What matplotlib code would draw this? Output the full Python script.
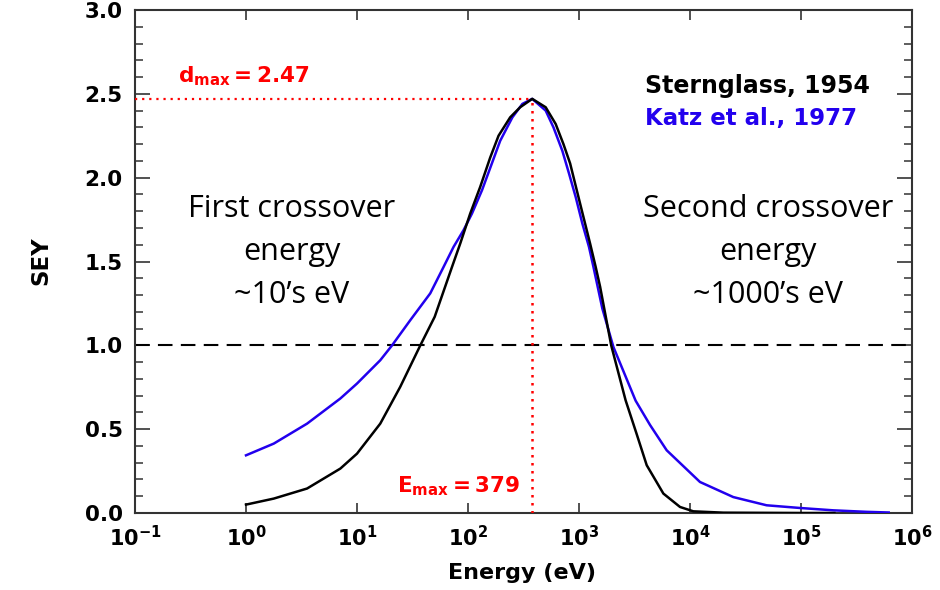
import matplotlib
matplotlib.use("Agg")
import matplotlib.pyplot as plt
from matplotlib.ticker import FixedLocator, MultipleLocator, NullLocator

# ---- data ----
stern_E = [1, 1.78, 3.55, 7.08, 10, 16.2, 24.5, 37.2, 50.1, 71.8, 85.1, 104.7, 128.8,
           158.5, 188.4, 239.9, 295.1, 379, 501, 616.6, 724.4, 831.8, 955, 1096,
           1259, 1413, 1549, 1950, 2630, 3311, 4074, 5754, 8128, 10715, 20000,
           100000, 200000]
stern_sey = [0.05, 0.086, 0.146, 0.265, 0.354, 0.533, 0.752, 1.0, 1.17, 1.468, 1.607,
             1.786, 1.945, 2.12, 2.25, 2.36, 2.42, 2.47, 2.42, 2.32, 2.20, 2.085,
             1.925, 1.766, 1.607, 1.468, 1.35, 1.0, 0.672, 0.47, 0.285, 0.116, 0.036,
             0.01, 0.002, 0.0, 0.0]

katz_E = [1, 1.78, 3.55, 7.08, 10, 16.2, 20.7, 30.2, 45.7, 60.3, 74.1, 91.2, 108.6,
          133.7, 164.1, 195, 251.2, 309, 379, 501, 588.8, 707.9, 812.8, 933.3, 1071.5,
          1230, 1349, 1622, 2042, 3236, 4365, 6166, 12300, 24550, 48980, 97720,
          195000, 389000, 616600]
katz_sey = [0.344, 0.414, 0.533, 0.683, 0.772, 0.911, 1.0, 1.15, 1.31, 1.468, 1.587,
            1.687, 1.786, 1.925, 2.085, 2.22, 2.36, 2.44, 2.47, 2.40, 2.30, 2.16, 2.025,
            1.885, 1.727, 1.587, 1.468, 1.22, 0.99, 0.67, 0.525, 0.374, 0.185, 0.095,
            0.046, 0.03, 0.016, 0.007, 0.003]

delta_max = 2.47
E_max = 379
crossover = 1.0

x_ticks = [1e-1, 1e0, 1e1, 1e2, 1e3, 1e4, 1e5, 1e6]
x_ticklabels = [r'$\mathbf{10^{-1}}$', r'$\mathbf{10^{0}}$', r'$\mathbf{10^{1}}$',
                r'$\mathbf{10^{2}}$', r'$\mathbf{10^{3}}$', r'$\mathbf{10^{4}}$',
                r'$\mathbf{10^{5}}$', r'$\mathbf{10^{6}}$']
y_ticks = [0.0, 0.5, 1.0, 1.5, 2.0, 2.5, 3.0]
y_ticklabels = ['0.0', '0.5', '1.0', '1.5', '2.0', '2.5', '3.0']

# ---- style ----
plt.rcParams['font.family'] = ['DejaVu Sans']
plt.rcParams['mathtext.fontset'] = 'dejavusans'

W, H = 940, 590
fig = plt.figure(figsize=(W / 100, H / 100), dpi=100)
ax = fig.add_axes([135 / W, 1 - 513 / H, (912 - 135) / W, (513 - 10) / H])

blue = '#2200ee'
ax.plot(katz_E, katz_sey, color=blue, lw=1.8, zorder=3)
ax.plot(stern_E, stern_sey, color='black', lw=1.8, zorder=4)

ax.axhline(crossover, color='black', lw=1.5, ls=(0, (7, 4)), zorder=2)
ax.plot([1e-1, E_max], [delta_max, delta_max], color='red', lw=1.6,
        ls=(0, (1, 2.2)), zorder=5)
ax.plot([E_max, E_max], [0, delta_max], color='red', lw=1.8,
        ls=(0, (1, 2.2)), zorder=5)

ax.set_xscale('log')
ax.set_xlim(1e-1, 1e6)
ax.set_ylim(0, 3.0)

ax.xaxis.set_major_locator(FixedLocator(x_ticks))
ax.xaxis.set_minor_locator(NullLocator())
ax.set_xticklabels(x_ticklabels)
ax.yaxis.set_major_locator(FixedLocator(y_ticks))
ax.yaxis.set_minor_locator(MultipleLocator(0.1))
ax.set_yticklabels(y_ticklabels)

for lab in ax.get_yticklabels():
    lab.set_fontweight('bold')
ax.tick_params(axis='both', which='major', direction='in',
               top=True, right=True, width=1.2, color='#333333')
ax.tick_params(axis='x', which='major', length=7.5, pad=9, labelsize=15)
ax.tick_params(axis='y', which='major', length=11, pad=9, labelsize=15.5)
ax.tick_params(axis='y', which='minor', length=6, width=1.1, direction='in',
               right=True, color='#333333')
for sp in ax.spines.values():
    sp.set_linewidth(1.5)
    sp.set_color('#333333')

# axis labels
fig.text(41 / W, 1 - 261 / H, 'SEY', rotation=90, ha='center', va='center',
         fontsize=16.5, fontweight='bold')
fig.text(522 / W, 1 - 573 / H, 'Energy (eV)', ha='center', va='center',
         fontsize=16, fontweight='bold')

# red annotations
fig.text(178 / W, 1 - 82 / H, r'$\mathbf{d_{max}=2.47}$', color='red',
         fontsize=15.5, ha='left', va='baseline')
fig.text(397 / W, 1 - 492 / H, r'$\mathbf{E_{max}=379}$', color='red',
         fontsize=15.5, ha='left', va='baseline')

# legend-like labels
fig.text(645 / W, 1 - 93 / H, 'Sternglass, 1954', color='black', fontsize=17,
         fontweight='bold', ha='left', va='baseline')
fig.text(645 / W, 1 - 125 / H, 'Katz et al., 1977', color=blue, fontsize=16.5,
         fontweight='bold', ha='left', va='baseline')

# crossover notes
big = dict(fontsize=22, family=['Open Sans', 'DejaVu Sans'], ha='center',
           va='baseline', color='black')
for i, (l1, l2) in enumerate([('First crossover', 'Second crossover'),
                              ('energy', 'energy'),
                              ('~10\u2019s eV', '~1000\u2019s eV')]):
    yb = 216.7 + 43.3 * i
    fig.text(291.5 / W, 1 - yb / H, l1, **big)
    fig.text(768 / W, 1 - yb / H, l2, **big)

fig.savefig('out.png', dpi=100, facecolor='white')
